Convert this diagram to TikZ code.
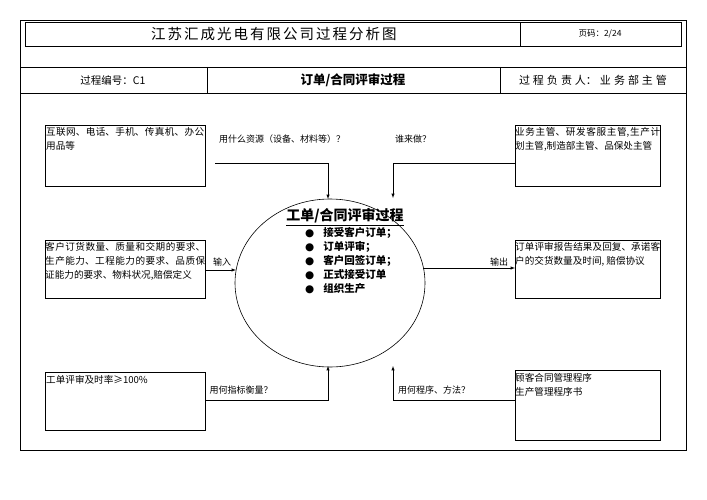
\documentclass[tikz,border=0pt]{standalone}
\usepackage{fontspec}
\setmainfont{Noto Sans CJK SC}
\newfontfamily\sym{DejaVu Sans}
\XeTeXlinebreaklocale "zh"
\XeTeXlinebreakskip=0pt plus 1pt
\newcommand\spacedtext[2]{{\XeTeXlinebreakskip=#1\relax #2}}
\begin{document}
\begin{tikzpicture}[x=1pt,y=-1pt,
 txt/.style={font=\fontsize{9.6}{14}\selectfont,align=justify,text width=#1,anchor=north west,inner sep=1pt},
 arr/.style={-latex,line width=0.5pt},
 lab/.style={font=\fontsize{9}{10}\selectfont,inner sep=1pt}]
\useasboundingbox (0,0) rectangle (707,500);
\draw[line width=0.8pt] (20,20) rectangle (686,450);
\draw[line width=0.6pt] (25,22) rectangle (681,46);
\draw (520,22) -- (520,46);
\node[font=\fontsize{14.5}{15}\selectfont,text width=400pt,align=center] at (274,34) {\spacedtext{2pt}{江苏汇成光电有限公司过程分析图}};
\node[font=\fontsize{8.5}{9}\selectfont] at (600,34) {页码：2/24};
\draw[line width=0.6pt] (20,67) rectangle (686,93);
\draw (207,67) -- (207,93); \draw (500,67) -- (500,93);
\node[font=\fontsize{10.5}{11}\selectfont] at (113,80) {过程编号：C1};
\node[font=\bfseries\fontsize{12.5}{13}\selectfont] at (353,80) {订单/合同评审过程};
\node[font=\fontsize{11}{12}\selectfont,text width=200pt,align=center] at (593,80) {\spacedtext{3pt}{过程负责人：业务部主管}};
% boxes
\draw[line width=0.6pt] (45,125) rectangle (205,186);
\node[txt=158pt] (tl) at (45,126) {互联网、电话、手机、传真机、办公用品等};
\draw[line width=0.6pt] (515,125) rectangle (660,186);
\node[txt=145pt] (tr) at (514,126) {业务主管、研发客服主管,生产计划主管,制造部主管、品保处主管};
\draw[line width=0.6pt] (45,240) rectangle (205,298);
\node[txt=160pt] (ml) at (44,241) {客户订货数量、质量和交期的要求、生产能力、工程能力的要求、品质保证能力的要求、物料状况,赔偿定义};
\draw[line width=0.6pt] (515,240) rectangle (660,298);
\node[txt=145pt] (mr) at (514,241) {订单评审报告结果及回复、承诺客户的交货数量及时间, 赔偿协议};
\draw[line width=0.6pt] (45,372) rectangle (205,430);
\node[txt=158pt] (bl) at (45,374) {工单评审及时率≥100\%};
\draw[line width=0.6pt] (515,370) rectangle (660,440);
\node[txt=145pt,align=left] (br) at (514,372) {顾客合同管理程序\\生产管理程序书};
% ellipse
\draw[line width=0.6pt] (330,283) ellipse (95 and 84);
\node[font=\bfseries\fontsize{14}{15}\selectfont] at (345,217) {\underline{工单/合同评审过程}};
\node[anchor=north west,align=left,font=\bfseries\itshape\fontsize{10.5}{14}\selectfont,inner sep=0pt] at (305,227)
 {{\sym ●}\hspace{9pt}接受客户订单；\\{\sym ●}\hspace{9pt}订单评审；\\{\sym ●}\hspace{9pt}客户回签订单；\\{\sym ●}\hspace{9pt}正式接受订单\\{\sym ●}\hspace{9pt}组织生产};
% arrows
\coordinate (a1) at (328,199); \coordinate (a2) at (393,198);
\coordinate (a3) at (328,366); \coordinate (a4) at (393,366);
\draw[arr] (215,163) -- (328,163) -- (a1);
\draw[arr] (515,163) -- (393,163) -- (a2);
\draw[arr] (205,270) -- (236,270);
\draw[arr] (423,268) -- (515,268);
\draw[arr] (205,400) -- (328,400) -- (a3);
\draw[arr] (515,400) -- (393,400) -- (a4);
\node[lab] at (282,139) {用什么资源（设备、材料等）？};
\node[lab] at (413,139) {谁来做？};
\node[lab] at (222,262) {输入};
\node[lab] at (499,262) {输出};
\node[lab] at (241,390) {用何指标衡量？};
\node[lab] at (434,390) {用何程序、方法？};
\end{tikzpicture}
\end{document}
